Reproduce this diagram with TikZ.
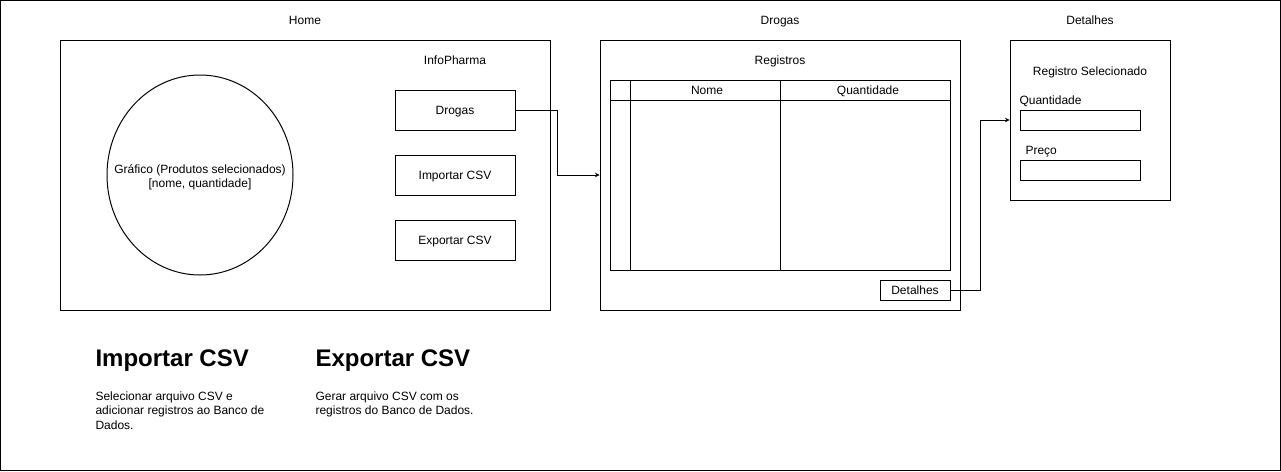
\documentclass[tikz,border=0pt]{standalone}
\usepackage{fontspec}
\setmainfont{Liberation Sans}

\begin{document}
\begin{tikzpicture}[x=1pt, y=-1pt, line width=1pt,
    font=\fontsize{12}{14}\selectfont,
    rotulo/.style={text height=9pt, text depth=0.5pt},
    tela/.style={draw, rectangle, inner sep=0, rotulo},
    botao/.style={tela, minimum width=120pt, minimum height=40pt},
    campo/.style={tela, minimum width=120pt, minimum height=20pt},
    titulo/.style={font=\fontsize{24}{28}\selectfont\bfseries, anchor=west, inner sep=0},
    texto/.style={font=\fontsize{12}{14.5}\selectfont, align=left, anchor=north west, inner sep=0}]

    \useasboundingbox (0, 0) rectangle (1281, 471);
    \draw (0.5, 0.5) rectangle (1280.5, 470.5);

    % Home
    \node [rotulo] (rotHome) at (305, 20) {Home};
    \node [tela, minimum width=490pt, minimum height=270pt] (home) at (305, 175) {};
    \draw (200, 175) ellipse [x radius=93, y radius=100];
    \node [align=center] (grafico) at (200, 177)
        {Gráfico (Produtos selecionados)\\{}[nome, quantidade]};
    \node [rotulo] (infoPharma) at (455, 60) {InfoPharma};
    \node [botao] (btnDrogas) at (455, 110) {Drogas};
    \node [botao] (btnImportar) at (455, 175) {Importar CSV};
    \node [botao] (btnExportar) at (455, 240) {Exportar CSV};

    % Drogas
    \node [rotulo] (rotDrogas) at (780, 20) {Drogas};
    \node [tela, minimum width=360pt, minimum height=270pt] (drogas) at (780, 175) {};
    \node [rotulo] (registros) at (780, 60) {Registros};
    \node [tela, minimum width=340pt, minimum height=190pt] (tabela) at (780, 175) {};
    \draw (610, 100) -- (950, 100);
    \foreach \x in {630, 780}
        { \draw (\x, 80) -- (\x, 270); }
    \node [rotulo] (colNome) at (707, 90) {Nome};
    \node [rotulo] (colQtd) at (868, 90) {Quantidade};
    \node [tela, minimum width=70pt, minimum height=20pt] (btnDetalhes) at (915, 290) {Detalhes};

    % Detalhes
    \node [rotulo] (rotDetalhes) at (1090, 20) {Detalhes};
    \node [tela, minimum width=160pt, minimum height=160pt] (detalhes) at (1090, 120) {};
    \node [rotulo] (regSel) at (1090, 71) {Registro Selecionado};
    \node [rotulo, anchor=west, inner sep=0] (lblQtd) at (1019, 100) {Quantidade};
    \node [campo] (campoQtd) at (1080, 120) {};
    \node [rotulo, anchor=west, inner sep=0] (lblPreco) at (1025, 150) {Preço};
    \node [campo] (campoPreco) at (1080, 170) {};

    \draw [-stealth] (btnDrogas.east) -- ++(42, 0) |- (drogas.west);
    \draw [-stealth] (btnDetalhes.east) -- ++(30, 0) |- (detalhes.west);

    % textos de baixo
    \node [titulo] (tImportar) at (95, 361) {Importar CSV};
    \node [texto] (dImportar) at (95, 391)
        {Selecionar arquivo CSV e\\adicionar registros ao Banco de\\Dados.};
    \node [titulo] (tExportar) at (315, 361) {Exportar CSV};
    \node [texto] (dExportar) at (315, 391)
        {Gerar arquivo CSV com os\\registros do Banco de Dados.};

\end{tikzpicture}
\end{document}
